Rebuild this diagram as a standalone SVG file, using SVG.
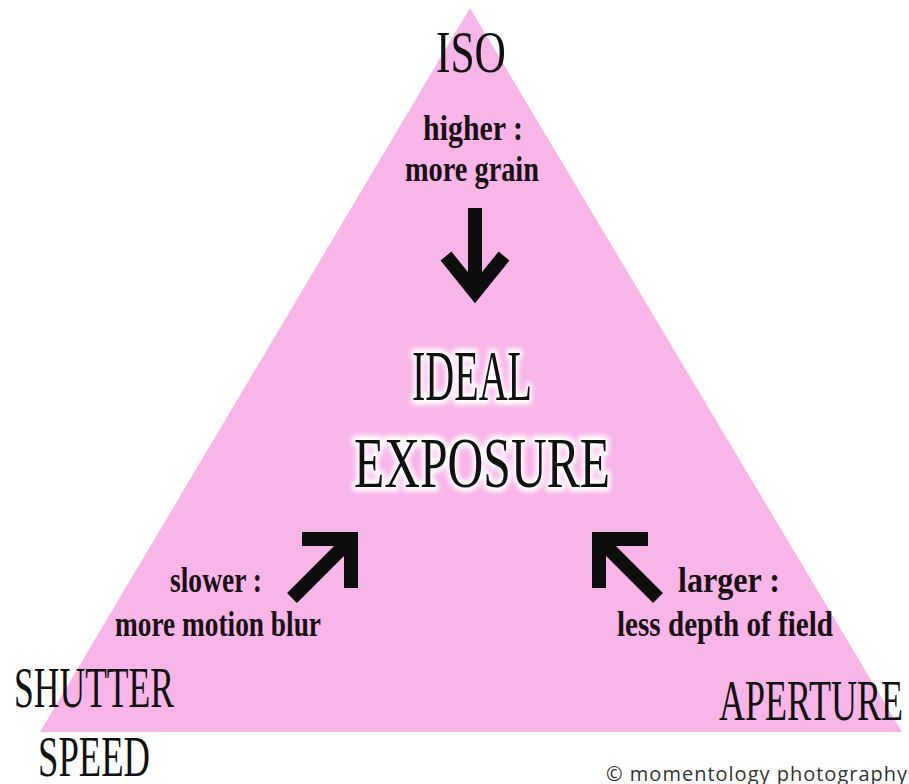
<svg xmlns="http://www.w3.org/2000/svg" width="909" height="784" viewBox="0 0 909 784">
<defs>
<style>
.head{font-family:"Liberation Serif","DejaVu Serif",serif;fill:#111;}
.lab{font-family:"Liberation Serif","DejaVu Serif",serif;font-weight:bold;fill:#1a0f14;text-anchor:middle;font-size:35px;}
.arr{fill:none;stroke:#0d0d0d;stroke-width:14;stroke-linejoin:miter;stroke-linecap:butt;}
.glow{fill:#fff;stroke:#fff;stroke-width:9;stroke-linejoin:round;filter:url(#blur);}
.copy{font-family:"Open Sans","DejaVu Sans",sans-serif;font-size:20px;fill:#333;letter-spacing:1px;}
</style>
<filter id="blur" x="-10%" y="-30%" width="120%" height="160%"><feGaussianBlur stdDeviation="2.5"/></filter>
</defs>
<rect width="909" height="784" fill="#ffffff"/>
<g id="triangle"><polygon points="470,8 40,732 902,732" fill="#f8b5e8"/></g>
<g id="iso">
<text class="head" x="436" y="72" font-size="60" textLength="70" lengthAdjust="spacingAndGlyphs">ISO</text>
<text class="lab" x="473" y="140" textLength="100" lengthAdjust="spacingAndGlyphs">higher :</text>
<text class="lab" x="472" y="181" textLength="134" lengthAdjust="spacingAndGlyphs">more grain</text>
</g>
<g id="ideal-exposure">
<text class="head glow" x="412" y="400" font-size="72" textLength="120" lengthAdjust="spacingAndGlyphs">IDEAL</text>
<text class="head glow" x="354" y="487" font-size="72" textLength="256" lengthAdjust="spacingAndGlyphs">EXPOSURE</text>
<text class="head" x="412" y="400" font-size="72" textLength="120" lengthAdjust="spacingAndGlyphs">IDEAL</text>
<text class="head" x="354" y="487" font-size="72" textLength="256" lengthAdjust="spacingAndGlyphs">EXPOSURE</text>
</g>
<g id="shutter-speed">
<text class="lab" x="216" y="592" textLength="92" lengthAdjust="spacingAndGlyphs">slower :</text>
<text class="lab" x="218" y="636" textLength="206" lengthAdjust="spacingAndGlyphs">more motion blur</text>
<text class="head" x="14" y="707" font-size="58" textLength="160" lengthAdjust="spacingAndGlyphs">SHUTTER</text>
<text class="head" x="38" y="776" font-size="56" textLength="112" lengthAdjust="spacingAndGlyphs">SPEED</text>
</g>
<g id="aperture">
<text class="lab" x="729" y="592" textLength="102" lengthAdjust="spacingAndGlyphs">larger :</text>
<text class="lab" x="725" y="636" textLength="216" lengthAdjust="spacingAndGlyphs">less depth of field</text>
<text class="head" x="719" y="720" font-size="58" textLength="184" lengthAdjust="spacingAndGlyphs">APERTURE</text>
</g>
<g id="connectors">
<path class="arr" d="M475,208 V292"/>
<path class="arr" d="M446,256 L475,292 L504,256"/>
<path class="arr" d="M292,598 L350,540"/>
<path class="arr" d="M302,539 L351,539 L351,588"/>
<path class="arr" d="M658,598 L600,540"/>
<path class="arr" d="M648,539 L599,539 L599,588"/>
</g>
<g id="credit"><text class="copy" x="606" y="781">© momentology photography</text></g>
</svg>
